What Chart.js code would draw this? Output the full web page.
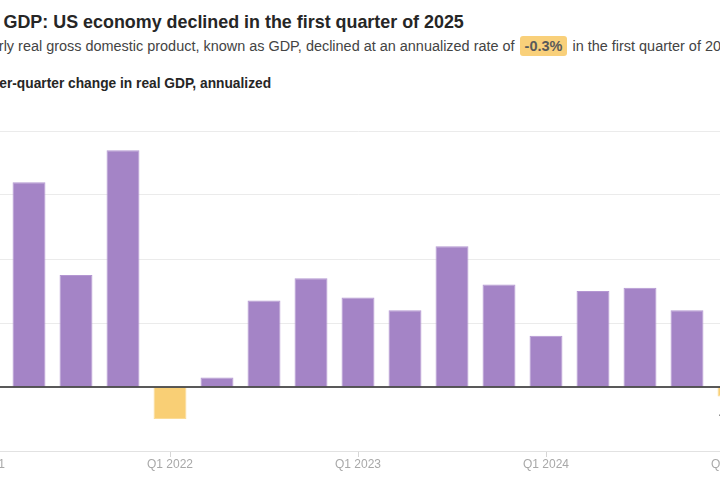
<!DOCTYPE html>
<html>
<head>
<meta charset="utf-8">
<script src="https://cdn.jsdelivr.net/npm/chart.js@4"></script>
<style>
  html, body { margin: 0; padding: 0; background: #fff; width: 720px; height: 480px; overflow: hidden; position: relative; }
  .txt { position: absolute; white-space: nowrap; font-family: "Liberation Sans", Arial, sans-serif; }
  #title { left: -85px; top: 11px; font-size: 17.9px; line-height: 22px; font-weight: bold; color: #262626; }
  #title .pre { margin-right: 4px; }
  #sub { left: -71px; top: 36px; font-size: 14.45px; line-height: 20px; color: #444; }
  #sub .hl { background: #f9d07a; color: #5a5a5a; font-weight: bold; font-size: 14.5px; padding: 2px 5px 2px 5px; border-radius: 3px; margin-left: 1px; margin-right: 1px; }
  #ytitle { left: -71px; top: 75px; font-size: 13.75px; line-height: 18px; font-weight: bold; color: #262626; }
  #wrap { position: absolute; left: -80px; top: 100px; width: 860px; height: 380px; }
</style>
</head>
<body>
<div class="txt" id="title"><span class="pre">Quarterly</span> GDP: US economy declined in the first quarter of 2025</div>
<div class="txt" id="sub">The quarterly real gross domestic product, known as GDP, declined at an annualized rate of <span class="hl">-0.3%</span> in the first quarter of 2025.</div>
<div class="txt" id="ytitle">Quarter-over-quarter change in real GDP, annualized</div>
<div id="wrap"><canvas id="c"></canvas></div>
<script>
const quarters = ["Q1 2021","Q2 2021","Q3 2021","Q4 2021","Q1 2022","Q2 2022","Q3 2022","Q4 2022","Q1 2023","Q2 2023","Q3 2023","Q4 2023","Q1 2024","Q2 2024","Q3 2024","Q4 2024","Q1 2025"];
const gdpChange = [5.6, 6.4, 3.5, 7.4, -1.0, 0.3, 2.7, 3.4, 2.8, 2.4, 4.4, 3.2, 1.6, 3.0, 3.1, 2.4, -0.3];
const yTicks = [-2, 0, 2, 4, 6, 8];
const lastLabel = "-0.3%";

const PURPLE = '#a484c6', PURPLE_EDGE = '#b497d2';
const YELLOW = '#f9cf75', YELLOW_EDGE = '#fbdc98';

const zeroLine = {
  id: 'zeroLine',
  afterDatasetsDraw(chart) {
    const {ctx, chartArea, scales} = chart;
    const y = scales.y.getPixelForValue(0);
    ctx.save();
    ctx.strokeStyle = '#222';
    ctx.lineWidth = 1.5;
    ctx.beginPath();
    ctx.moveTo(chartArea.left, y);
    ctx.lineTo(chartArea.right, y);
    ctx.stroke();
    // label under the latest bar
    const meta = chart.getDatasetMeta(0);
    const bar = meta.data[meta.data.length - 1];
    ctx.fillStyle = '#222';
    ctx.font = 'bold 13px "Liberation Sans", Arial, sans-serif';
    ctx.textAlign = 'center';
    ctx.textBaseline = 'middle';
    ctx.fillText(lastLabel, bar.x + 2, bar.y + 19);
    ctx.restore();
  }
};

new Chart(document.getElementById('c'), {
  type: 'bar',
  data: {
    labels: quarters,
    datasets: [{
      data: gdpChange,
      backgroundColor: gdpChange.map(v => v < 0 ? YELLOW : PURPLE),
      borderColor: gdpChange.map(v => v < 0 ? YELLOW_EDGE : PURPLE_EDGE),
      borderWidth: 1,
      borderSkipped: 'start',
      barPercentage: 0.7,
      categoryPercentage: 1.0
    }]
  },
  plugins: [zeroLine],
  options: {
    responsive: true,
    maintainAspectRatio: false,
    animation: false,
    layout: { padding: { top: 31, right: 22.5, left: 0, bottom: 0 } },
    plugins: { legend: { display: false }, tooltip: { enabled: false } },
    scales: {
      x: {
        offset: true,
        border: { display: false },
        grid: {
          offset: false,
          drawOnChartArea: false,
          drawTicks: true,
          tickLength: 6,
          color: (c) => (quarters[c.index] || '').startsWith('Q1') ? '#d6d6d6' : 'rgba(0,0,0,0)'
        },
        ticks: {
          autoSkip: false,
          maxRotation: 0,
          padding: 0,
          color: '#a8a8a8',
          font: { family: '"Liberation Sans", Arial, sans-serif', size: 12 },
          callback: function(v, i) { return quarters[i].startsWith('Q1') ? quarters[i] : ''; }
        },
        afterFit(scale) { scale.height = 29; }
      },
      y: {
        min: -2, max: 8,
        border: { display: false },
        afterBuildTicks(scale) { scale.ticks = yTicks.map(v => ({ value: v })); },
        grid: {
          drawTicks: false,
          color: (c) => c.tick.value === 0 ? 'rgba(0,0,0,0)' : (c.tick.value === -2 ? '#e2e2e2' : '#ebebeb'),
          lineWidth: 1
        },
        ticks: {
          color: '#a8a8a8',
          font: { family: '"Liberation Sans", Arial, sans-serif', size: 12 },
          callback: (v) => v + '%'
        },
        afterFit(scale) { scale.width = 38.5; }
      }
    }
  }
});
</script>
</body>
</html>
